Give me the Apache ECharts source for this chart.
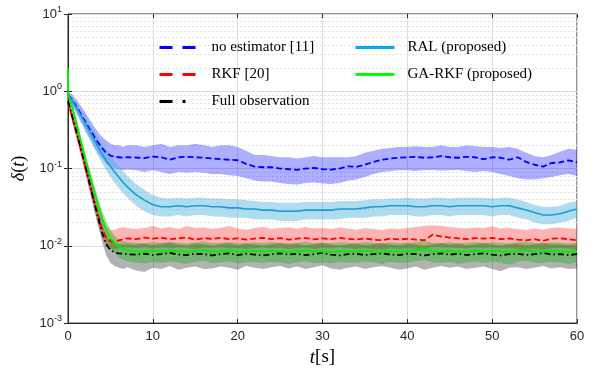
<!DOCTYPE html>
<html><head><meta charset="utf-8">
<script src="https://cdn.jsdelivr.net/npm/echarts@6/dist/echarts.min.js"></script>
<style>html,body{margin:0;padding:0;background:#fff}#c{width:600px;height:372px}</style>
</head><body><div id="c"></div>
<script>
const times = [0,0.05,0.25,0.5,1,1.5,2,2.5,3,3.5,4,4.5,5,5.5,6,6.5,7,
8,9,10,11,12,13,14,15,16,17,18,19,20,21,22,23,24,25,26,27,28,29,30,31,32,33,34,35,36,37,38,39,40,
41,42,43,44,45,46,47,48,49,50,51,52,53,54,55,56,57,58,59,60];
const xTicks = [0,10,20,30,40,50,60];
const yTicks = [0.001,0.01,0.1,1,10];

// no estimator [11]
const noEst = [0.9,0.89,0.84,0.78,0.63,0.51,0.41,0.33,0.27,0.22,0.185,0.16,0.147,0.142,0.14,0.138,0.14,
0.139,0.136,0.143,0.14,0.13,0.14,0.142,0.14,0.138,0.135,
0.132,0.13,0.128,0.115,0.106,0.104,0.104,0.1,0.098,0.096,
0.1,0.102,0.098,0.097,0.1,0.107,0.105,0.112,0.122,0.13,
0.135,0.138,0.14,0.142,0.138,0.14,0.145,0.14,0.138,0.142,
0.14,0.132,0.14,0.138,0.13,0.14,0.122,0.112,0.106,0.118,
0.12,0.128,0.12];
const noEstHi = [1.0,0.99,0.96,0.91,0.78,0.65,0.54,0.44,0.36,0.3,0.26,0.23,0.21,0.2,0.2,0.19,0.2,
0.2,0.19,0.2,0.21,0.19,0.2,0.2,0.21,0.2,0.19,
0.2,0.2,0.19,0.17,0.15,0.15,0.145,0.14,0.14,0.135,
0.14,0.145,0.14,0.14,0.14,0.14,0.145,0.16,0.17,0.18,
0.185,0.19,0.19,0.195,0.19,0.19,0.2,0.19,0.19,0.2,
0.195,0.19,0.19,0.185,0.19,0.18,0.16,0.145,0.14,0.15,
0.165,0.18,0.175];
const noEstLo = [0.8,0.79,0.72,0.66,0.52,0.41,0.32,0.25,0.2,0.16,0.135,0.115,0.105,0.1,0.098,0.095,0.097,
0.095,0.09,0.095,0.09,0.085,0.09,0.088,0.09,0.088,0.085,
0.085,0.082,0.08,0.075,0.07,0.068,0.068,0.065,0.063,0.062,
0.065,0.066,0.064,0.063,0.065,0.07,0.072,0.078,0.085,0.09,
0.092,0.095,0.095,0.093,0.095,0.096,0.094,0.095,0.096,0.092,
0.09,0.093,0.09,0.085,0.08,0.075,0.072,0.072,0.075,0.078,
0.082,0.085,0.08];

// RAL (proposed)
const ral = [0.9,0.89,0.83,0.76,0.61,0.49,0.39,0.31,0.245,0.195,0.155,0.127,0.106,0.09,0.077,0.066,0.058,
0.046,0.039,0.034,0.032,0.032,0.033,0.032,0.033,0.033,0.032,
0.032,0.031,0.031,0.03,0.03,0.029,0.029,0.028,0.028,0.028,
0.029,0.029,0.029,0.029,0.03,0.03,0.03,0.031,0.032,0.032,
0.033,0.033,0.033,0.032,0.032,0.033,0.033,0.032,0.033,0.033,
0.033,0.033,0.032,0.033,0.033,0.031,0.029,0.027,0.025,0.025,
0.026,0.028,0.03];
const ralHi = [0.95,0.95,0.9,0.84,0.7,0.58,0.48,0.39,0.32,0.26,0.21,0.175,0.148,0.125,0.107,0.092,0.08,
0.063,0.053,0.045,0.042,0.041,0.042,0.041,0.042,0.042,0.041,
0.041,0.04,0.04,0.039,0.038,0.037,0.037,0.036,0.036,0.036,
0.037,0.037,0.037,0.037,0.038,0.038,0.038,0.039,0.04,0.04,
0.041,0.041,0.042,0.041,0.041,0.042,0.042,0.041,0.042,0.042,
0.042,0.042,0.041,0.042,0.042,0.04,0.037,0.034,0.032,0.032,
0.033,0.036,0.038];
const ralLo = [0.85,0.84,0.76,0.68,0.53,0.41,0.31,0.245,0.19,0.15,0.118,0.095,0.078,0.066,0.056,0.048,0.042,
0.033,0.028,0.025,0.024,0.024,0.025,0.024,0.025,0.025,0.024,
0.024,0.023,0.023,0.023,0.022,0.022,0.022,0.021,0.021,0.021,
0.022,0.022,0.022,0.022,0.022,0.023,0.023,0.023,0.024,0.024,
0.025,0.025,0.025,0.024,0.024,0.025,0.025,0.024,0.025,0.025,
0.025,0.025,0.024,0.025,0.025,0.023,0.022,0.02,0.019,0.019,
0.02,0.021,0.023];

// RKF [20]
const rkf = [0.72,0.7,0.58,0.46,0.29,0.18,0.11,0.067,0.041,0.026,0.017,0.0128,0.0115,0.0112,0.0118,0.0122,0.0125,
0.0122,0.0128,0.0124,0.0127,0.0122,0.0125,0.0128,0.012,0.0126,0.0123,
0.0127,0.0122,0.0125,0.012,0.0124,0.0127,0.0122,0.0126,0.012,0.0124,
0.0126,0.0121,0.0125,0.0122,0.0127,0.0123,0.0121,0.0125,0.012,0.0118,
0.0124,0.0121,0.0123,0.012,0.0118,0.014,0.0132,0.0128,0.0125,0.0122,
0.0126,0.0124,0.0127,0.0122,0.0125,0.012,0.0118,0.0122,0.0116,0.0124,
0.0125,0.0122,0.0118];
const rkfHi = [0.8,0.78,0.66,0.54,0.35,0.22,0.14,0.085,0.053,0.034,0.023,0.018,0.016,0.016,0.017,0.0175,0.017,
0.0165,0.017,0.018,0.0168,0.0175,0.0165,0.018,0.017,0.0172,0.0165,
0.017,0.018,0.0168,0.0162,0.017,0.0175,0.0165,0.017,0.0172,0.0166,
0.0175,0.0168,0.017,0.0165,0.0172,0.0168,0.0162,0.017,0.0165,0.016,
0.0168,0.0165,0.017,0.0175,0.018,0.0185,0.018,0.0175,0.017,0.0168,
0.0172,0.017,0.0178,0.0168,0.017,0.0165,0.016,0.0168,0.0162,0.017,
0.0172,0.0168,0.0165];
const rkfLo = [0.64,0.62,0.5,0.39,0.24,0.145,0.088,0.053,0.032,0.02,0.013,0.0098,0.009,0.009,0.0092,0.0095,0.0095,
0.0094,0.0096,0.0092,0.0095,0.0093,0.0096,0.0094,0.009,0.0095,0.0093,
0.0096,0.0092,0.0094,0.009,0.0093,0.0096,0.0092,0.0095,0.009,0.0093,
0.0095,0.0091,0.0094,0.0092,0.0096,0.0093,0.0091,0.0094,0.009,0.0089,
0.0093,0.0091,0.0093,0.009,0.0089,0.0098,0.0096,0.0095,0.0094,0.0092,
0.0095,0.0093,0.0096,0.0092,0.0094,0.009,0.0089,0.0092,0.0088,0.0093,
0.0094,0.0092,0.0089];

// Full observation
const full = [0.75,0.72,0.6,0.47,0.3,0.185,0.112,0.068,0.04,0.024,0.015,0.0105,0.0088,0.0082,0.008,0.0079,0.0078,
0.0077,0.0079,0.0076,0.0078,0.0081,0.0077,0.0076,0.0079,0.0078,0.0075,
0.0078,0.008,0.0076,0.0079,0.0077,0.0075,0.0078,0.008,0.0077,0.0079,
0.0076,0.0078,0.0081,0.0077,0.0075,0.0078,0.0079,0.0076,0.0078,0.008,
0.0077,0.0076,0.0079,0.0078,0.0075,0.0078,0.008,0.0077,0.0079,0.0076,
0.0078,0.008,0.0077,0.0075,0.0078,0.0079,0.0076,0.0078,0.0081,0.0077,
0.0078,0.0076,0.0078];
const fullHi = [0.82,0.8,0.67,0.53,0.34,0.21,0.13,0.08,0.048,0.03,0.019,0.0135,0.0115,0.011,0.0105,0.0105,0.0105,
0.0104,0.0107,0.0102,0.0106,0.011,0.0104,0.0102,0.0107,0.0105,0.0101,
0.0105,0.0108,0.0102,0.0106,0.0104,0.0101,0.0105,0.0108,0.0104,0.0106,
0.0102,0.0105,0.0109,0.0104,0.0101,0.0105,0.0106,0.0102,0.0105,0.0108,
0.0104,0.0102,0.0106,0.0105,0.0101,0.0105,0.0108,0.0104,0.0106,0.0102,
0.0105,0.0108,0.0104,0.0101,0.0105,0.0106,0.0102,0.0105,0.0109,0.0104,
0.0105,0.0102,0.0105];
const fullLo = [0.68,0.65,0.53,0.41,0.26,0.16,0.095,0.056,0.032,0.019,0.0115,0.0075,0.006,0.0055,0.0052,0.005,0.0053,
0.0048,0.0046,0.0052,0.005,0.0055,0.0049,0.0052,0.0054,0.005,0.0051,
0.0054,0.0052,0.0049,0.0055,0.0052,0.005,0.0053,0.0055,0.0051,0.0054,
0.005,0.0053,0.0056,0.0051,0.0049,0.0052,0.0054,0.005,0.0053,0.0055,
0.0052,0.0049,0.0051,0.0054,0.0049,0.0052,0.0055,0.0052,0.0054,0.005,
0.0052,0.0054,0.005,0.0047,0.0052,0.0053,0.005,0.0052,0.0055,0.0051,
0.0053,0.005,0.0051];

// GA-RKF (proposed)
const ga = [2.0,0.88,0.76,0.62,0.38,0.23,0.14,0.087,0.055,0.035,0.023,0.016,0.0125,0.0108,0.0097,0.0091,0.0088,
0.0085,0.0083,0.0086,0.0084,0.0087,0.0085,0.0083,0.0086,0.0088,0.0084,
0.0085,0.0087,0.0083,0.0085,0.0086,0.0084,0.0086,0.0085,0.0083,0.0085,
0.0087,0.0084,0.0085,0.0083,0.0086,0.0085,0.0084,0.0087,0.0085,0.0083,
0.0086,0.0084,0.0085,0.0087,0.0091,0.0085,0.0084,0.0086,0.0083,0.0085,
0.0087,0.0084,0.0086,0.0085,0.0083,0.0086,0.0088,0.0085,0.0084,0.0086,
0.0085,0.0083,0.0085];
const gaHi = [2.0,0.95,0.84,0.7,0.44,0.27,0.165,0.103,0.066,0.043,0.029,0.021,0.016,0.0135,0.0122,0.0115,0.0112,
0.011,0.0108,0.0112,0.0109,0.0113,0.011,0.0108,0.0111,0.0114,0.0109,
0.011,0.0112,0.0108,0.011,0.0111,0.0109,0.0112,0.011,0.0108,0.011,
0.0113,0.0109,0.011,0.0108,0.0111,0.011,0.0109,0.0112,0.011,0.0108,
0.0111,0.0109,0.011,0.0112,0.0116,0.011,0.0109,0.0111,0.0108,0.011,
0.0112,0.0109,0.0111,0.011,0.0108,0.0111,0.0113,0.011,0.0109,0.0111,
0.011,0.0108,0.011];
const gaLo = [2.0,0.82,0.68,0.54,0.32,0.19,0.115,0.071,0.045,0.028,0.018,0.0122,0.0095,0.008,0.0071,0.0066,0.0063,
0.0061,0.0059,0.0062,0.006,0.0063,0.0061,0.0058,0.0062,0.0064,0.006,
0.0061,0.0063,0.0059,0.0061,0.0062,0.006,0.0062,0.0061,0.0058,0.0061,
0.0063,0.006,0.0061,0.0059,0.0062,0.0061,0.006,0.0063,0.0061,0.0058,
0.0062,0.006,0.0061,0.0063,0.0066,0.0061,0.006,0.0062,0.0058,0.0061,
0.0063,0.006,0.0062,0.0061,0.0057,0.0062,0.0064,0.0061,0.006,0.0062,
0.0061,0.0058,0.0061];

const names = ['no estimator [11]','RKF [20]','Full observation','RAL (proposed)','GA-RKF (proposed)'];

function pairs(v){ return times.map((t,i)=>[t, v[i]]); }
function band(lo, hi, fill, z){
  return {type:'custom', silent:true, z:z, data:[[0,1]], encode:{x:0,y:1}, clip:true,
    renderItem:function(params, api){
      const pts=[];
      for(let i=0;i<times.length;i++) pts.push(api.coord([times[i], hi[i]]));
      for(let i=times.length-1;i>=0;i--) pts.push(api.coord([times[i], lo[i]]));
      return {type:'polygon', shape:{points:pts}, style:{fill:fill}};
    }};
}
function line(name, v, color, type, width, z){
  return {type:'line', name:name, data:pairs(v), symbol:'none', z:z,
    lineStyle:{color:color, width:width, type:type}, itemStyle:{color:color}};
}
const minor=[];
for(let d=-3; d<1; d++){ for(let k=2;k<=9;k++){ minor.push({yAxis: k*Math.pow(10,d)}); } }

const serif = 'Liberation Serif';
const sans = 'Liberation Sans';
const hid = {color:'rgba(0,0,0,0)', borderColor:'rgba(0,0,0,0)', borderWidth:0, opacity:0};
const chart = echarts.init(document.getElementById('c'));
chart.setOption({
  animation:false,
  backgroundColor:'#fff',
  grid:{left:68, right:23, top:14, bottom:47, show:true, borderColor:'#262626', borderWidth:1, backgroundColor:'transparent'},
  legend:[
    {orient:'vertical', left:158, top:40, itemWidth:37, itemHeight:14, itemGap:12, padding:0, z:10,
     textStyle:{fontFamily:serif, fontSize:15, color:'#000', padding:[0,0,0,10]},
     data:[
       {name:names[0], itemStyle:hid, lineStyle:{color:'#0000ff', width:3, type:[13,10]}},
       {name:names[1], itemStyle:hid, lineStyle:{color:'#ff0000', width:3, type:[13,10]}},
       {name:names[2], itemStyle:hid, lineStyle:{color:'#000000', width:3, type:[13,10,3,20]}}
     ]},
    {orient:'vertical', left:354, top:40, itemWidth:39, itemHeight:14, itemGap:12, padding:0, z:10,
     textStyle:{fontFamily:serif, fontSize:15, color:'#000', padding:[0,0,0,8]},
     data:[
       {name:names[3], itemStyle:hid, lineStyle:{color:'#00aeef', width:3, type:'solid'}},
       {name:names[4], itemStyle:hid, lineStyle:{color:'#00ff00', width:3, type:'solid'}}
     ]}
  ],
  xAxis:[{type:'value', min:xTicks[0], max:xTicks[xTicks.length-1], interval:10,
    axisLine:{show:true, onZero:false, lineStyle:{color:'#262626'}},
    axisTick:{show:true, inside:true, length:4, lineStyle:{color:'#262626'}},
    axisLabel:{fontFamily:sans, fontSize:13, color:'#262626', margin:7},
    splitLine:{show:true, lineStyle:{color:'#dcdcdc', width:1}},
    name:'{i|t}{n|[s]}', nameLocation:'middle', nameGap:21,
    nameTextStyle:{rich:{i:{fontFamily:serif, fontStyle:'italic', fontSize:19, color:'#000'}, n:{fontFamily:serif, fontSize:19, color:'#000'}}}
  },{type:'value', position:'top', min:0, max:60, interval:10,
    axisLine:{show:false}, axisTick:{show:true, inside:true, length:4, lineStyle:{color:'#262626'}},
    axisLabel:{show:false}, splitLine:{show:false}}],
  yAxis:[{type:'log', logBase:10, min:yTicks[0], max:yTicks[yTicks.length-1],
    axisLine:{show:true, lineStyle:{color:'#262626'}},
    axisTick:{show:true, inside:true, length:4, lineStyle:{color:'#262626'}},
    axisLabel:{margin:6, formatter:function(v){ return '{b|10}{e|'+Math.round(Math.log10(v))+'}'; },
      rich:{b:{fontFamily:sans, fontSize:13, color:'#262626'}, e:{fontFamily:sans, fontSize:9, color:'#262626', verticalAlign:'bottom', padding:[0,0,9,0]}}},
    splitLine:{show:true, lineStyle:{color:'#dcdcdc', width:1}},
    name:'{i|δ}{n|(}{i|t}{n|)}', nameLocation:'middle', nameGap:31, nameRotate:90,
    nameTextStyle:{rich:{i:{fontFamily:serif, fontStyle:'italic', fontSize:18, color:'#000'}, n:{fontFamily:serif, fontSize:18, color:'#000'}}}
  },{type:'log', logBase:10, min:0.001, max:10, position:'right',
    axisLine:{show:false}, axisTick:{show:true, inside:true, length:4, lineStyle:{color:'#262626'}},
    axisLabel:{show:false}, splitLine:{show:false}}],
  series:[
    {type:'line', data:[], silent:true, z:0, symbol:'none',
      markLine:{silent:true, z:0, symbol:['none','none'], label:{show:false}, animation:false,
        lineStyle:{color:'#e2e2e2', type:[2,2], width:1}, data:minor}},
    band(noEstLo, noEstHi, 'rgba(20,20,255,0.34)', 2),
    band(ralLo, ralHi, 'rgba(77,180,220,0.45)', 2),
    band(rkfLo, rkfHi, 'rgba(255,40,40,0.35)', 2),
    band(fullLo, fullHi, 'rgba(0,0,0,0.3)', 2),
    band(gaLo, gaHi, 'rgba(30,180,30,0.42)', 2),
    line(names[0], noEst, '#0000ff', [6,3], 1.8, 5),
    line(names[3], ral, '#1a9cd6', 'solid', 1.6, 5),
    line(names[1], rkf, '#ff0000', [6,3], 1.8, 5),
    line(names[2], full, '#000000', [6,3,1.5,3], 1.8, 5),
    line(names[4], ga, '#00ee00', 'solid', 1.8, 6)
  ]
});
</script></body></html>
